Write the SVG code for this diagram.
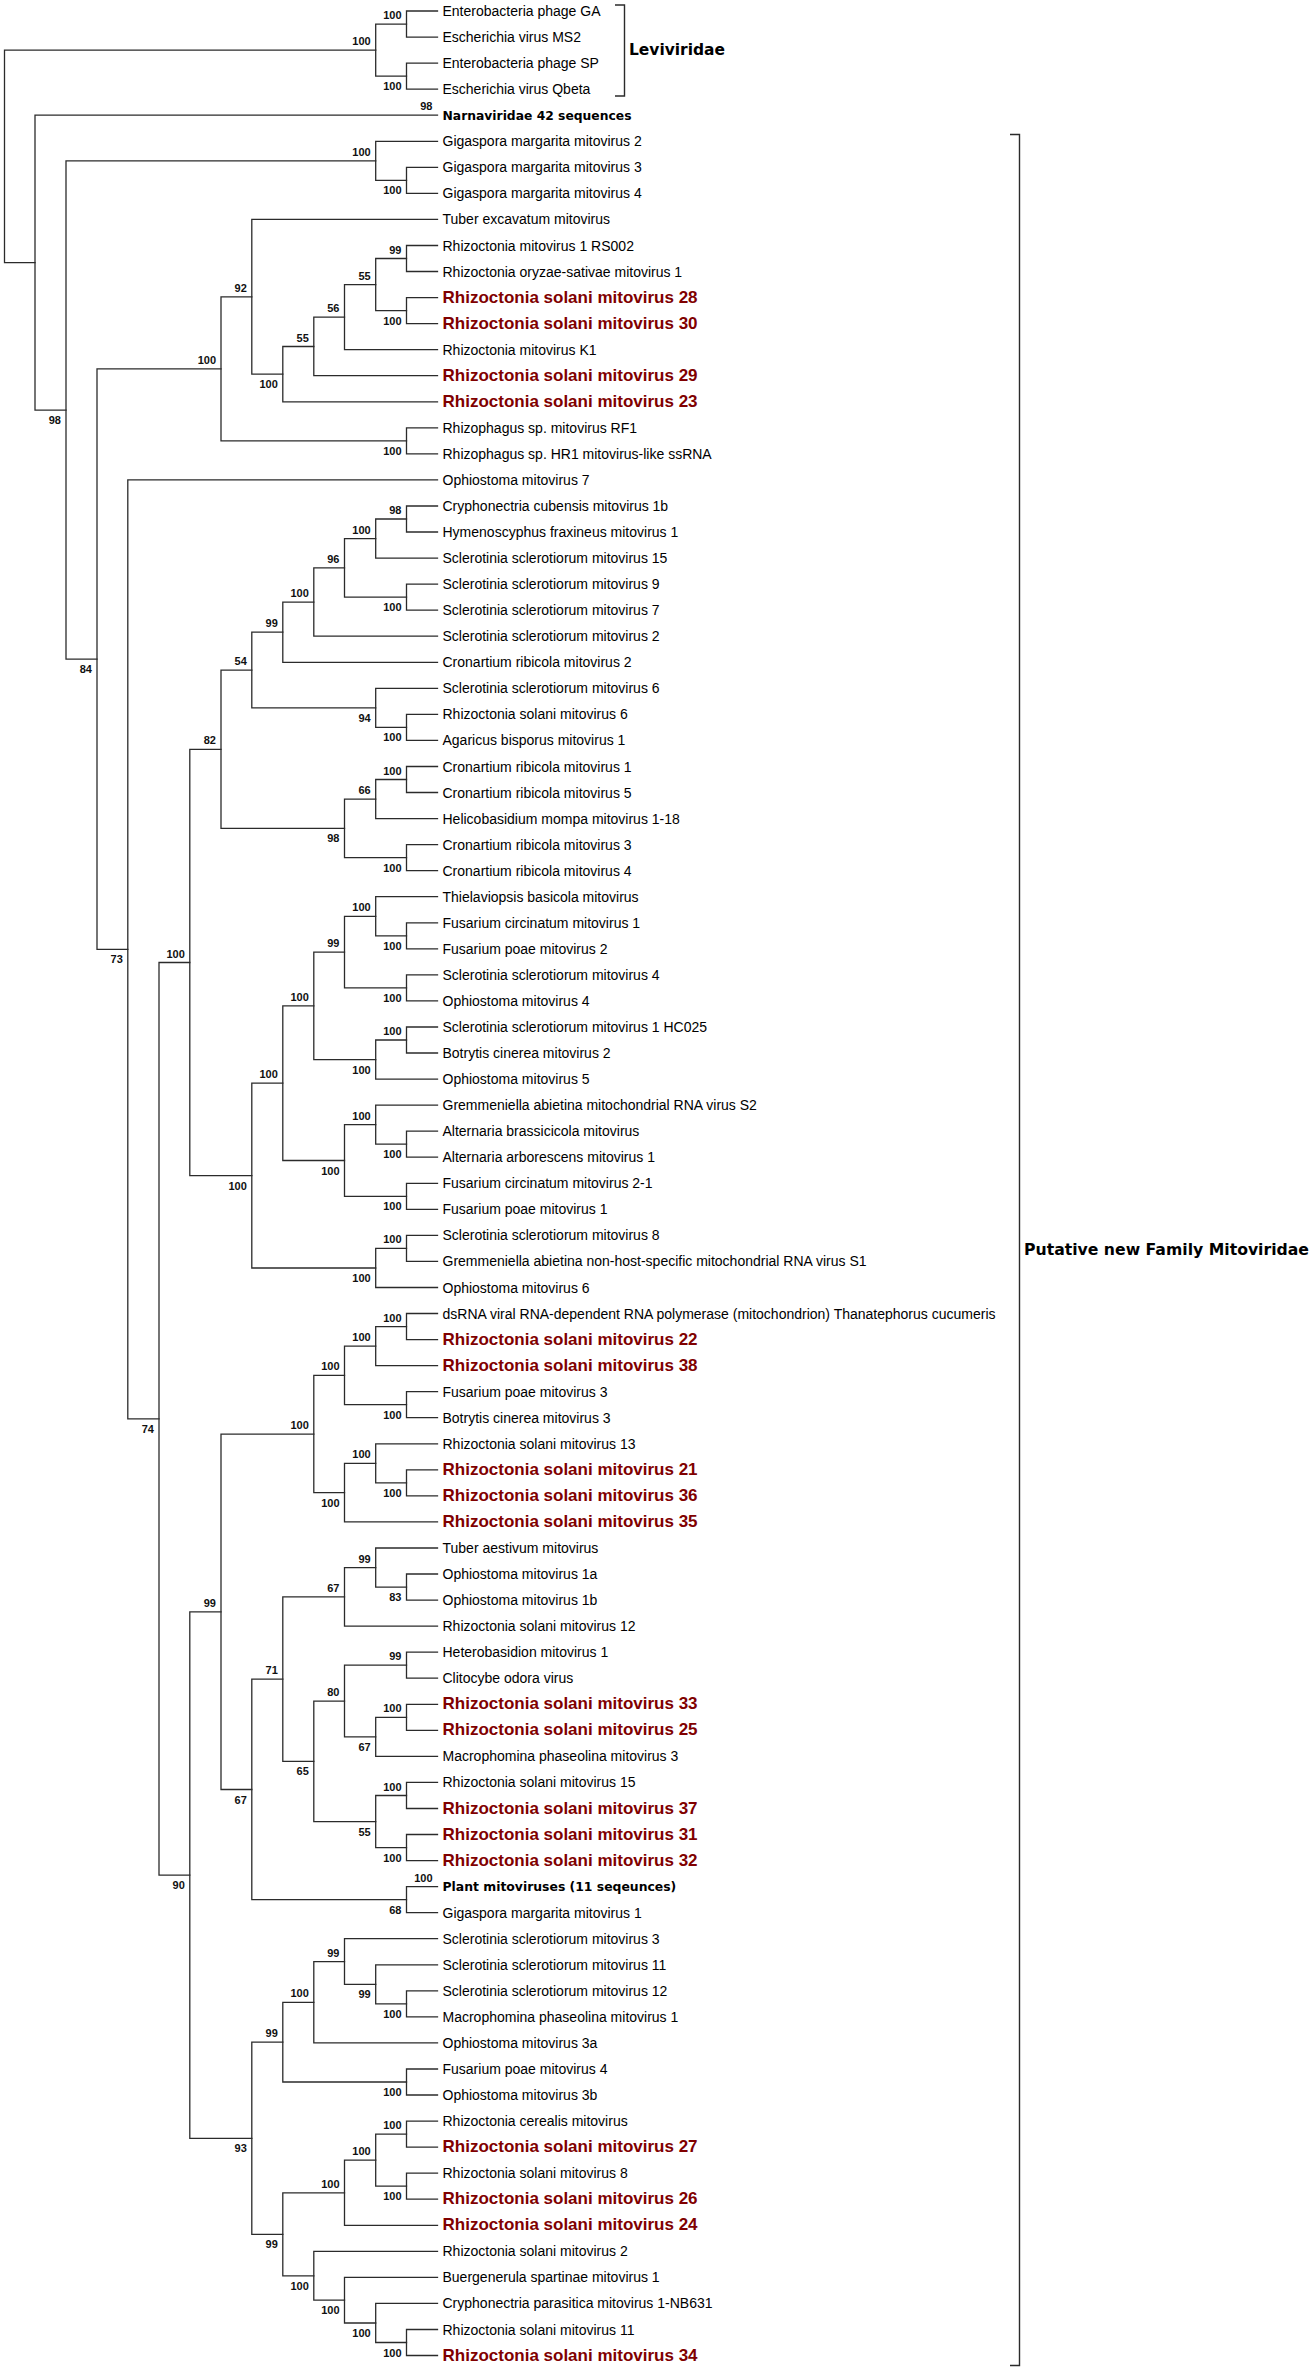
<svg xmlns="http://www.w3.org/2000/svg" width="1314" height="2371" viewBox="0 0 1314 2371">
<style>
.e{fill:none;stroke:#2b2b2b;stroke-width:1.3;stroke-linecap:square}
.k{fill:none;stroke:#2b2b2b;stroke-width:1.4}
.b{font-family:"Liberation Sans",Arial,sans-serif;font-size:11px;font-weight:bold;text-anchor:end;fill:#111}
.l{font-family:"Liberation Sans",Arial,sans-serif;font-size:14px;fill:#000}
.r{font-family:"Liberation Sans",Arial,sans-serif;font-size:17px;font-weight:bold;fill:#800000}
.t{font-family:"DejaVu Sans",Verdana,sans-serif;font-weight:bold;fill:#000}
</style>
<rect width="1314" height="2371" fill="#fff"/>
<g id="connectors">
<path class="e" d="M375.7,50.2H4.5V262.7H35"/>
<path class="e" d="M437.5,115.2H35V410.1H66"/>
<path class="e" d="M375.7,160.9H66V659.2H97"/>
<path class="e" d="M221,368.9H97V949.4H127.8"/>
<path class="e" d="M437.5,479.9H127.8V1418.8H159"/>
<path class="e" d="M189.8,962.5H159V1875.1H189.8"/>
<path class="e" d="M221,749.3H189.8V1175.6H251.8"/>
<path class="e" d="M221,1611.8H189.8V2138.3H251.8"/>
<path class="e" d="M251.8,296.8H221V440.9H406.5"/>
<path class="e" d="M251.8,670.1H221V828.4H344.5"/>
<path class="e" d="M313.8,1434.1H221V1789.5H251.8"/>
<path class="e" d="M437.5,219.4H251.8V374.2H282.8"/>
<path class="e" d="M282.8,632.2H251.8V707.9H375.7"/>
<path class="e" d="M282.8,1083.2H251.8V1268H375.7"/>
<path class="e" d="M282.8,1679.2H251.8V1899.7H406.5"/>
<path class="e" d="M282.8,2042.2H251.8V2234.3H282.8"/>
<path class="e" d="M313.8,346.5H282.8V401.8H437.5"/>
<path class="e" d="M313.8,602.1H282.8V662.3H437.5"/>
<path class="e" d="M313.8,1005.9H282.8V1160.5H344.5"/>
<path class="e" d="M344.5,1596.9H282.8V1761.4H313.8"/>
<path class="e" d="M313.8,2002.3H282.8V2082H406.5"/>
<path class="e" d="M344.5,2192.8H282.8V2275.8H313.8"/>
<path class="e" d="M344.5,317.2H313.8V375.7H437.5"/>
<path class="e" d="M344.5,567.9H313.8V636.2H437.5"/>
<path class="e" d="M344.5,952.1H313.8V1059.6H375.7"/>
<path class="e" d="M344.5,1375.4H313.8V1492.7H344.5"/>
<path class="e" d="M344.5,1701.1H313.8V1821.6H375.7"/>
<path class="e" d="M344.5,1961.6H313.8V2042.9H437.5"/>
<path class="e" d="M437.5,2251.3H313.8V2300.2H344.5"/>
<path class="e" d="M375.7,284.6H344.5V349.7H437.5"/>
<path class="e" d="M375.7,538.6H344.5V597.2H406.5"/>
<path class="e" d="M375.7,799.1H344.5V857.7H406.5"/>
<path class="e" d="M375.7,916.3H344.5V987.9H406.5"/>
<path class="e" d="M375.7,1124.7H344.5V1196.3H406.5"/>
<path class="e" d="M375.7,1346.1H344.5V1404.7H406.5"/>
<path class="e" d="M375.7,1463.4H344.5V1521.9H437.5"/>
<path class="e" d="M375.7,1567.6H344.5V1626.1H437.5"/>
<path class="e" d="M406.5,1665.2H344.5V1736.9H375.7"/>
<path class="e" d="M437.5,1938.7H344.5V1984.4H375.7"/>
<path class="e" d="M375.7,2160.2H344.5V2225.3H437.5"/>
<path class="e" d="M437.5,2277.4H344.5V2323H375.7"/>
<path class="e" d="M406.5,24.1H375.7V76.2H406.5"/>
<path class="e" d="M437.5,141.3H375.7V180.4H406.5"/>
<path class="e" d="M406.5,258.5H375.7V310.6H406.5"/>
<path class="e" d="M406.5,519H375.7V558.1H437.5"/>
<path class="e" d="M437.5,688.3H375.7V727.4H406.5"/>
<path class="e" d="M406.5,779.5H375.7V818.6H437.5"/>
<path class="e" d="M437.5,896.7H375.7V935.8H406.5"/>
<path class="e" d="M406.5,1040H375.7V1079.1H437.5"/>
<path class="e" d="M437.5,1105.1H375.7V1144.2H406.5"/>
<path class="e" d="M406.5,1248.4H375.7V1287.5H437.5"/>
<path class="e" d="M406.5,1326.6H375.7V1365.6H437.5"/>
<path class="e" d="M437.5,1443.8H375.7V1482.9H406.5"/>
<path class="e" d="M437.5,1548H375.7V1587.1H406.5"/>
<path class="e" d="M406.5,1717.3H375.7V1756.4H437.5"/>
<path class="e" d="M406.5,1795.5H375.7V1847.6H406.5"/>
<path class="e" d="M437.5,1964.8H375.7V2003.9H406.5"/>
<path class="e" d="M406.5,2134.1H375.7V2186.2H406.5"/>
<path class="e" d="M437.5,2303.4H375.7V2342.5H406.5"/>
<path class="e" d="M437.5,11H406.5V37.1H437.5"/>
<path class="e" d="M437.5,63.1H406.5V89.2H437.5"/>
<path class="e" d="M437.5,167.3H406.5V193.4H437.5"/>
<path class="e" d="M437.5,245.5H406.5V271.5H437.5"/>
<path class="e" d="M437.5,297.6H406.5V323.6H437.5"/>
<path class="e" d="M437.5,427.8H406.5V453.9H437.5"/>
<path class="e" d="M437.5,506H406.5V532H437.5"/>
<path class="e" d="M437.5,584.1H406.5V610.2H437.5"/>
<path class="e" d="M437.5,714.4H406.5V740.4H437.5"/>
<path class="e" d="M437.5,766.5H406.5V792.5H437.5"/>
<path class="e" d="M437.5,844.6H406.5V870.7H437.5"/>
<path class="e" d="M437.5,922.8H406.5V948.8H437.5"/>
<path class="e" d="M437.5,974.9H406.5V1000.9H437.5"/>
<path class="e" d="M437.5,1027H406.5V1053H437.5"/>
<path class="e" d="M437.5,1131.2H406.5V1157.2H437.5"/>
<path class="e" d="M437.5,1183.3H406.5V1209.3H437.5"/>
<path class="e" d="M437.5,1235.4H406.5V1261.4H437.5"/>
<path class="e" d="M437.5,1313.5H406.5V1339.6H437.5"/>
<path class="e" d="M437.5,1391.7H406.5V1417.7H437.5"/>
<path class="e" d="M437.5,1469.8H406.5V1495.9H437.5"/>
<path class="e" d="M437.5,1574H406.5V1600.1H437.5"/>
<path class="e" d="M437.5,1652.2H406.5V1678.2H437.5"/>
<path class="e" d="M437.5,1704.3H406.5V1730.3H437.5"/>
<path class="e" d="M437.5,1782.4H406.5V1808.5H437.5"/>
<path class="e" d="M437.5,1834.5H406.5V1860.6H437.5"/>
<path class="e" d="M437.5,1886.6H406.5V1912.7H437.5"/>
<path class="e" d="M437.5,1990.8H406.5V2016.9H437.5"/>
<path class="e" d="M437.5,2069H406.5V2095H437.5"/>
<path class="e" d="M437.5,2121.1H406.5V2147.1H437.5"/>
<path class="e" d="M437.5,2173.2H406.5V2199.2H437.5"/>
<path class="e" d="M437.5,2329.5H406.5V2355.5H437.5"/>
</g>
<g id="support">
<text class="b" x="370.7" y="45.2">100</text>
<text class="b" x="401.5" y="19.1">100</text>
<text class="b" x="401.5" y="90.2">100</text>
<text class="b" x="432.5" y="110.2">98</text>
<text class="b" x="61" y="424.1">98</text>
<text class="b" x="370.7" y="155.9">100</text>
<text class="b" x="401.5" y="194.4">100</text>
<text class="b" x="92" y="673.2">84</text>
<text class="b" x="216" y="363.9">100</text>
<text class="b" x="246.8" y="291.8">92</text>
<text class="b" x="277.8" y="388.2">100</text>
<text class="b" x="308.8" y="341.5">55</text>
<text class="b" x="339.5" y="312.2">56</text>
<text class="b" x="370.7" y="279.6">55</text>
<text class="b" x="401.5" y="253.5">99</text>
<text class="b" x="401.5" y="324.6">100</text>
<text class="b" x="401.5" y="454.9">100</text>
<text class="b" x="122.8" y="963.4">73</text>
<text class="b" x="154" y="1432.8">74</text>
<text class="b" x="184.8" y="957.5">100</text>
<text class="b" x="216" y="744.3">82</text>
<text class="b" x="246.8" y="665.1">54</text>
<text class="b" x="277.8" y="627.2">99</text>
<text class="b" x="308.8" y="597.1">100</text>
<text class="b" x="339.5" y="562.9">96</text>
<text class="b" x="370.7" y="533.6">100</text>
<text class="b" x="401.5" y="514">98</text>
<text class="b" x="401.5" y="611.2">100</text>
<text class="b" x="370.7" y="721.9">94</text>
<text class="b" x="401.5" y="741.4">100</text>
<text class="b" x="339.5" y="842.4">98</text>
<text class="b" x="370.7" y="794.1">66</text>
<text class="b" x="401.5" y="774.5">100</text>
<text class="b" x="401.5" y="871.7">100</text>
<text class="b" x="246.8" y="1189.6">100</text>
<text class="b" x="277.8" y="1078.2">100</text>
<text class="b" x="308.8" y="1000.9">100</text>
<text class="b" x="339.5" y="947.1">99</text>
<text class="b" x="370.7" y="911.3">100</text>
<text class="b" x="401.5" y="949.8">100</text>
<text class="b" x="401.5" y="1001.9">100</text>
<text class="b" x="370.7" y="1073.6">100</text>
<text class="b" x="401.5" y="1035">100</text>
<text class="b" x="339.5" y="1174.5">100</text>
<text class="b" x="370.7" y="1119.7">100</text>
<text class="b" x="401.5" y="1158.2">100</text>
<text class="b" x="401.5" y="1210.3">100</text>
<text class="b" x="370.7" y="1282">100</text>
<text class="b" x="401.5" y="1243.4">100</text>
<text class="b" x="184.8" y="1889.1">90</text>
<text class="b" x="216" y="1606.8">99</text>
<text class="b" x="308.8" y="1429.1">100</text>
<text class="b" x="339.5" y="1370.4">100</text>
<text class="b" x="370.7" y="1341.1">100</text>
<text class="b" x="401.5" y="1321.6">100</text>
<text class="b" x="401.5" y="1418.7">100</text>
<text class="b" x="339.5" y="1506.7">100</text>
<text class="b" x="370.7" y="1458.4">100</text>
<text class="b" x="401.5" y="1496.9">100</text>
<text class="b" x="246.8" y="1803.5">67</text>
<text class="b" x="277.8" y="1674.2">71</text>
<text class="b" x="339.5" y="1591.9">67</text>
<text class="b" x="370.7" y="1562.6">99</text>
<text class="b" x="401.5" y="1601.1">83</text>
<text class="b" x="308.8" y="1775.4">65</text>
<text class="b" x="339.5" y="1696.1">80</text>
<text class="b" x="401.5" y="1660.2">99</text>
<text class="b" x="370.7" y="1750.9">67</text>
<text class="b" x="401.5" y="1712.3">100</text>
<text class="b" x="370.7" y="1835.6">55</text>
<text class="b" x="401.5" y="1790.5">100</text>
<text class="b" x="401.5" y="1861.6">100</text>
<text class="b" x="401.5" y="1913.7">68</text>
<text class="b" x="432.5" y="1881.6">100</text>
<text class="b" x="246.8" y="2152.3">93</text>
<text class="b" x="277.8" y="2037.2">99</text>
<text class="b" x="308.8" y="1997.3">100</text>
<text class="b" x="339.5" y="1956.6">99</text>
<text class="b" x="370.7" y="1998.4">99</text>
<text class="b" x="401.5" y="2017.9">100</text>
<text class="b" x="401.5" y="2096">100</text>
<text class="b" x="277.8" y="2248.3">99</text>
<text class="b" x="339.5" y="2187.8">100</text>
<text class="b" x="370.7" y="2155.2">100</text>
<text class="b" x="401.5" y="2129.1">100</text>
<text class="b" x="401.5" y="2200.2">100</text>
<text class="b" x="308.8" y="2289.8">100</text>
<text class="b" x="339.5" y="2314.2">100</text>
<text class="b" x="370.7" y="2337">100</text>
<text class="b" x="401.5" y="2356.5">100</text>
</g>
<g id="leaves">
<g id="leaf-1"><text class="l" x="442.5" y="16">Enterobacteria phage GA</text></g>
<g id="leaf-2"><text class="l" x="442.5" y="42.1">Escherichia virus MS2</text></g>
<g id="leaf-3"><text class="l" x="442.5" y="68.1">Enterobacteria phage SP</text></g>
<g id="leaf-4"><text class="l" x="442.5" y="94.2">Escherichia virus Qbeta</text></g>
<g id="leaf-5"><text class="t" x="442.5" y="119.5" font-size="12.4" textLength="189" lengthAdjust="spacingAndGlyphs">Narnaviridae 42 sequences</text></g>
<g id="leaf-6"><text class="l" x="442.5" y="146.3">Gigaspora margarita mitovirus 2</text></g>
<g id="leaf-7"><text class="l" x="442.5" y="172.3">Gigaspora margarita mitovirus 3</text></g>
<g id="leaf-8"><text class="l" x="442.5" y="198.4">Gigaspora margarita mitovirus 4</text></g>
<g id="leaf-9"><text class="l" x="442.5" y="224.4">Tuber excavatum mitovirus</text></g>
<g id="leaf-10"><text class="l" x="442.5" y="250.5">Rhizoctonia mitovirus 1 RS002</text></g>
<g id="leaf-11"><text class="l" x="442.5" y="276.5">Rhizoctonia oryzae-sativae mitovirus 1</text></g>
<g id="leaf-12"><text class="r" x="442.5" y="302.6">Rhizoctonia solani mitovirus 28</text></g>
<g id="leaf-13"><text class="r" x="442.5" y="328.6">Rhizoctonia solani mitovirus 30</text></g>
<g id="leaf-14"><text class="l" x="442.5" y="354.7">Rhizoctonia mitovirus K1</text></g>
<g id="leaf-15"><text class="r" x="442.5" y="380.7">Rhizoctonia solani mitovirus 29</text></g>
<g id="leaf-16"><text class="r" x="442.5" y="406.8">Rhizoctonia solani mitovirus 23</text></g>
<g id="leaf-17"><text class="l" x="442.5" y="432.8">Rhizophagus sp. mitovirus RF1</text></g>
<g id="leaf-18"><text class="l" x="442.5" y="458.9">Rhizophagus sp. HR1 mitovirus-like ssRNA</text></g>
<g id="leaf-19"><text class="l" x="442.5" y="484.9">Ophiostoma mitovirus 7</text></g>
<g id="leaf-20"><text class="l" x="442.5" y="511">Cryphonectria cubensis mitovirus 1b</text></g>
<g id="leaf-21"><text class="l" x="442.5" y="537">Hymenoscyphus fraxineus mitovirus 1</text></g>
<g id="leaf-22"><text class="l" x="442.5" y="563.1">Sclerotinia sclerotiorum mitovirus 15</text></g>
<g id="leaf-23"><text class="l" x="442.5" y="589.1">Sclerotinia sclerotiorum mitovirus 9</text></g>
<g id="leaf-24"><text class="l" x="442.5" y="615.2">Sclerotinia sclerotiorum mitovirus 7</text></g>
<g id="leaf-25"><text class="l" x="442.5" y="641.2">Sclerotinia sclerotiorum mitovirus 2</text></g>
<g id="leaf-26"><text class="l" x="442.5" y="667.3">Cronartium ribicola mitovirus 2</text></g>
<g id="leaf-27"><text class="l" x="442.5" y="693.3">Sclerotinia sclerotiorum mitovirus 6</text></g>
<g id="leaf-28"><text class="l" x="442.5" y="719.4">Rhizoctonia solani mitovirus 6</text></g>
<g id="leaf-29"><text class="l" x="442.5" y="745.4">Agaricus bisporus mitovirus 1</text></g>
<g id="leaf-30"><text class="l" x="442.5" y="771.5">Cronartium ribicola mitovirus 1</text></g>
<g id="leaf-31"><text class="l" x="442.5" y="797.5">Cronartium ribicola mitovirus 5</text></g>
<g id="leaf-32"><text class="l" x="442.5" y="823.6">Helicobasidium mompa mitovirus 1-18</text></g>
<g id="leaf-33"><text class="l" x="442.5" y="849.6">Cronartium ribicola mitovirus 3</text></g>
<g id="leaf-34"><text class="l" x="442.5" y="875.7">Cronartium ribicola mitovirus 4</text></g>
<g id="leaf-35"><text class="l" x="442.5" y="901.7">Thielaviopsis basicola mitovirus</text></g>
<g id="leaf-36"><text class="l" x="442.5" y="927.8">Fusarium circinatum mitovirus 1</text></g>
<g id="leaf-37"><text class="l" x="442.5" y="953.8">Fusarium poae mitovirus 2</text></g>
<g id="leaf-38"><text class="l" x="442.5" y="979.9">Sclerotinia sclerotiorum mitovirus 4</text></g>
<g id="leaf-39"><text class="l" x="442.5" y="1005.9">Ophiostoma mitovirus 4</text></g>
<g id="leaf-40"><text class="l" x="442.5" y="1032">Sclerotinia sclerotiorum mitovirus 1 HC025</text></g>
<g id="leaf-41"><text class="l" x="442.5" y="1058">Botrytis cinerea mitovirus 2</text></g>
<g id="leaf-42"><text class="l" x="442.5" y="1084.1">Ophiostoma mitovirus 5</text></g>
<g id="leaf-43"><text class="l" x="442.5" y="1110.1">Gremmeniella abietina mitochondrial RNA virus S2</text></g>
<g id="leaf-44"><text class="l" x="442.5" y="1136.2">Alternaria brassicicola mitovirus</text></g>
<g id="leaf-45"><text class="l" x="442.5" y="1162.2">Alternaria arborescens mitovirus 1</text></g>
<g id="leaf-46"><text class="l" x="442.5" y="1188.3">Fusarium circinatum mitovirus 2-1</text></g>
<g id="leaf-47"><text class="l" x="442.5" y="1214.3">Fusarium poae mitovirus 1</text></g>
<g id="leaf-48"><text class="l" x="442.5" y="1240.4">Sclerotinia sclerotiorum mitovirus 8</text></g>
<g id="leaf-49"><text class="l" x="442.5" y="1266.4">Gremmeniella abietina non-host-specific mitochondrial RNA virus S1</text></g>
<g id="leaf-50"><text class="l" x="442.5" y="1292.5">Ophiostoma mitovirus 6</text></g>
<g id="leaf-51"><text class="l" x="442.5" y="1318.5">dsRNA viral RNA-dependent RNA polymerase (mitochondrion) Thanatephorus cucumeris</text></g>
<g id="leaf-52"><text class="r" x="442.5" y="1344.6">Rhizoctonia solani mitovirus 22</text></g>
<g id="leaf-53"><text class="r" x="442.5" y="1370.6">Rhizoctonia solani mitovirus 38</text></g>
<g id="leaf-54"><text class="l" x="442.5" y="1396.7">Fusarium poae mitovirus 3</text></g>
<g id="leaf-55"><text class="l" x="442.5" y="1422.7">Botrytis cinerea mitovirus 3</text></g>
<g id="leaf-56"><text class="l" x="442.5" y="1448.8">Rhizoctonia solani mitovirus 13</text></g>
<g id="leaf-57"><text class="r" x="442.5" y="1474.8">Rhizoctonia solani mitovirus 21</text></g>
<g id="leaf-58"><text class="r" x="442.5" y="1500.9">Rhizoctonia solani mitovirus 36</text></g>
<g id="leaf-59"><text class="r" x="442.5" y="1526.9">Rhizoctonia solani mitovirus 35</text></g>
<g id="leaf-60"><text class="l" x="442.5" y="1553">Tuber aestivum mitovirus</text></g>
<g id="leaf-61"><text class="l" x="442.5" y="1579">Ophiostoma mitovirus 1a</text></g>
<g id="leaf-62"><text class="l" x="442.5" y="1605.1">Ophiostoma mitovirus 1b</text></g>
<g id="leaf-63"><text class="l" x="442.5" y="1631.1">Rhizoctonia solani mitovirus 12</text></g>
<g id="leaf-64"><text class="l" x="442.5" y="1657.2">Heterobasidion mitovirus 1</text></g>
<g id="leaf-65"><text class="l" x="442.5" y="1683.2">Clitocybe odora virus</text></g>
<g id="leaf-66"><text class="r" x="442.5" y="1709.3">Rhizoctonia solani mitovirus 33</text></g>
<g id="leaf-67"><text class="r" x="442.5" y="1735.3">Rhizoctonia solani mitovirus 25</text></g>
<g id="leaf-68"><text class="l" x="442.5" y="1761.4">Macrophomina phaseolina mitovirus 3</text></g>
<g id="leaf-69"><text class="l" x="442.5" y="1787.4">Rhizoctonia solani mitovirus 15</text></g>
<g id="leaf-70"><text class="r" x="442.5" y="1813.5">Rhizoctonia solani mitovirus 37</text></g>
<g id="leaf-71"><text class="r" x="442.5" y="1839.5">Rhizoctonia solani mitovirus 31</text></g>
<g id="leaf-72"><text class="r" x="442.5" y="1865.6">Rhizoctonia solani mitovirus 32</text></g>
<g id="leaf-73"><text class="t" x="442.5" y="1890.9" font-size="12.4">Plant mitoviruses (11 seqeunces)</text></g>
<g id="leaf-74"><text class="l" x="442.5" y="1917.7">Gigaspora margarita mitovirus 1</text></g>
<g id="leaf-75"><text class="l" x="442.5" y="1943.7">Sclerotinia sclerotiorum mitovirus 3</text></g>
<g id="leaf-76"><text class="l" x="442.5" y="1969.8">Sclerotinia sclerotiorum mitovirus 11</text></g>
<g id="leaf-77"><text class="l" x="442.5" y="1995.8">Sclerotinia sclerotiorum mitovirus 12</text></g>
<g id="leaf-78"><text class="l" x="442.5" y="2021.9">Macrophomina phaseolina mitovirus 1</text></g>
<g id="leaf-79"><text class="l" x="442.5" y="2047.9">Ophiostoma mitovirus 3a</text></g>
<g id="leaf-80"><text class="l" x="442.5" y="2074">Fusarium poae mitovirus 4</text></g>
<g id="leaf-81"><text class="l" x="442.5" y="2100">Ophiostoma mitovirus 3b</text></g>
<g id="leaf-82"><text class="l" x="442.5" y="2126.1">Rhizoctonia cerealis mitovirus</text></g>
<g id="leaf-83"><text class="r" x="442.5" y="2152.1">Rhizoctonia solani mitovirus 27</text></g>
<g id="leaf-84"><text class="l" x="442.5" y="2178.2">Rhizoctonia solani mitovirus 8</text></g>
<g id="leaf-85"><text class="r" x="442.5" y="2204.2">Rhizoctonia solani mitovirus 26</text></g>
<g id="leaf-86"><text class="r" x="442.5" y="2230.3">Rhizoctonia solani mitovirus 24</text></g>
<g id="leaf-87"><text class="l" x="442.5" y="2256.3">Rhizoctonia solani mitovirus 2</text></g>
<g id="leaf-88"><text class="l" x="442.5" y="2282.4">Buergenerula spartinae mitovirus 1</text></g>
<g id="leaf-89"><text class="l" x="442.5" y="2308.4">Cryphonectria parasitica mitovirus 1-NB631</text></g>
<g id="leaf-90"><text class="l" x="442.5" y="2334.5">Rhizoctonia solani mitovirus 11</text></g>
<g id="leaf-91"><text class="r" x="442.5" y="2360.5">Rhizoctonia solani mitovirus 34</text></g>
</g>
<g id="group-leviviridae">
<path class="k" d="M615,5H624.5V96H615"/>
<text class="t" x="629" y="55" font-size="15.5" textLength="96" lengthAdjust="spacingAndGlyphs">Leviviridae</text>
</g>
<g id="group-mitoviridae">
<path class="k" d="M1010,134.5H1019.5V2365.5H1010"/>
<text class="t" x="1024" y="1255.3" font-size="15.6" textLength="285" lengthAdjust="spacingAndGlyphs">Putative new Family Mitoviridae</text>
</g>
</svg>
